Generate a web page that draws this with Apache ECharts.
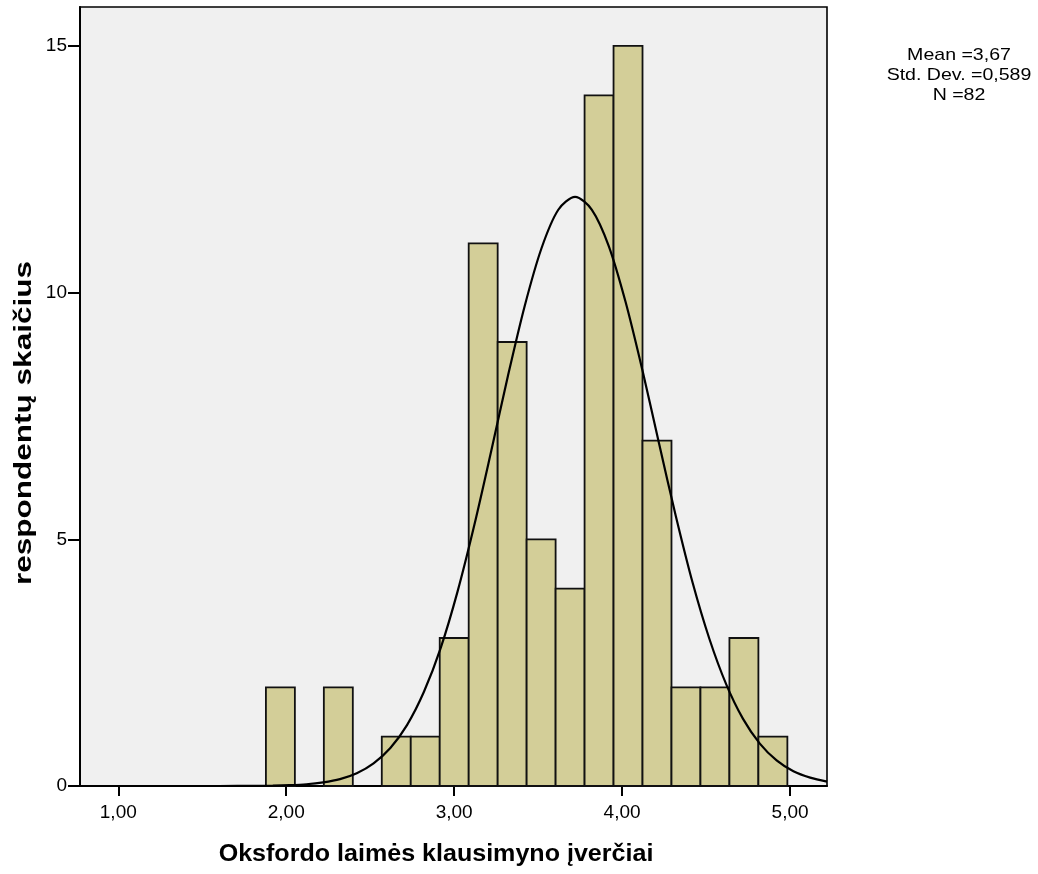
<!DOCTYPE html>
<html>
<head>
<meta charset="utf-8">
<script src="https://cdn.jsdelivr.net/npm/echarts@6/dist/echarts.min.js"></script>
<style>
html,body{margin:0;padding:0;background:#fff;}
#chart{width:1038px;height:874px;}
</style>
</head>
<body>
<div id="chart"></div>
<script>
// Histogram bin edges (x values) and counts
const binEdges = [1.879, 2.0515, 2.224, 2.3965, 2.569, 2.7415, 2.914, 3.0865, 3.259, 3.4315, 3.604, 3.7765, 3.949, 4.1215, 4.294, 4.4665, 4.639, 4.8115, 4.984];
const counts = [2, 0, 2, 0, 1, 1, 3, 11, 9, 5, 4, 14, 15, 7, 2, 2, 3, 1];
// Normal curve points
const curveX = [0.772, 1.0, 1.2, 1.4, 1.6, 1.82, 1.92, 2.02, 2.12, 2.22, 2.32, 2.42, 2.52, 2.62, 2.72, 2.82, 2.92, 3.02, 3.12, 3.22, 3.32, 3.42, 3.52, 3.62, 3.72, 3.82, 3.92, 4.02, 4.12, 4.22, 4.32, 4.42, 4.52, 4.62, 4.72, 4.82, 4.92, 5.02, 5.12, 5.22];
const curveY = [0, 0, 0, 0, 0, 0.002, 0.006, 0.016, 0.035, 0.074, 0.14, 0.26, 0.46, 0.77, 1.24, 1.91, 2.8, 3.94, 5.29, 6.78, 8.31, 9.73, 10.9, 11.68, 11.94, 11.68, 10.95, 9.82, 8.44, 6.94, 5.47, 4.12, 2.98, 2.06, 1.36, 0.86, 0.52, 0.3, 0.17, 0.09];
const xTicks = [1, 2, 3, 4, 5];
const yTicks = [0, 5, 10, 15];
const statsLines = ['Mean =3,67', 'Std. Dev. =0,589', 'N =82'];
const xTitle = 'Oksfordo laimės klausimyno įverčiai';
const yTitle = 'respondentų skaičius';

const barData = counts.map((c, i) => [binEdges[i], binEdges[i + 1], c]);
const curveData = curveX.map((x, i) => [x, curveY[i]]);
const FONT = '"Liberation Sans", Arial, sans-serif';

const chart = echarts.init(document.getElementById('chart'), null, {renderer: 'canvas'});
chart.setOption({
  animation: false,
  backgroundColor: '#ffffff',
  grid: {left: 80, right: 211, top: 7, bottom: 88, show: true, backgroundColor: '#F0F0F0', borderColor: '#000', borderWidth: 1.6, containLabel: false},
  xAxis: {
    type: 'value', min: 0.772, max: 5.22,
    axisLine: {show: true, lineStyle: {color: '#000', width: 2}},
    axisTick: {show: true, length: 10, lineStyle: {color: '#000', width: 2}, customValues: xTicks},
    axisLabel: {show: true, customValues: xTicks, color: '#000', fontFamily: FONT, fontSize: 19, margin: 17,
      formatter: v => v.toFixed(2).replace('.', ',')},
    splitLine: {show: false}
  },
  yAxis: {
    type: 'value', min: 0, max: 15.79,
    axisLine: {show: true, lineStyle: {color: '#000', width: 2}},
    axisTick: {show: true, length: 12, lineStyle: {color: '#000', width: 2}, customValues: yTicks},
    axisLabel: {show: true, customValues: yTicks, color: '#000', fontFamily: FONT, fontSize: 19, margin: 13},
    splitLine: {show: false}
  },
  series: [
    {
      type: 'custom',
      data: barData,
      encode: {x: [0, 1], y: 2},
      renderItem: function (params, api) {
        const c = api.value(2);
        if (!c) return null;
        const p0 = api.coord([api.value(0), c]);
        const p1 = api.coord([api.value(1), 0]);
        return {
          type: 'rect',
          shape: {x: p0[0], y: p0[1], width: p1[0] - p0[0], height: p1[1] - p0[1]},
          style: {fill: '#D3CE98', stroke: '#111', lineWidth: 1.8}
        };
      },
      z: 2
    },
    {
      type: 'line',
      data: curveData,
      smooth: 0.3,
      symbol: 'none',
      lineStyle: {color: '#000', width: 2.2},
      z: 3
    }
  ],
  graphic: [
    ...statsLines.map((t, i) => ({
      type: 'text', x: 959, y: 55 + i * 20, scaleX: 1.15,
      style: {text: t, fill: '#000', font: '17px ' + FONT, textAlign: 'center', textVerticalAlign: 'middle'}
    })),
    {type: 'text', x: 436, y: 855, scaleX: 1.09,
      style: {text: xTitle, fill: '#000', font: 'bold 23px ' + FONT, textAlign: 'center', textVerticalAlign: 'middle'}},
    {type: 'text', x: 25, y: 423, rotation: Math.PI / 2, scaleX: 1.37,
      style: {text: yTitle, fill: '#000', font: 'bold 23px ' + FONT, textAlign: 'center', textVerticalAlign: 'middle'}}
  ]
});
</script>
</body>
</html>
